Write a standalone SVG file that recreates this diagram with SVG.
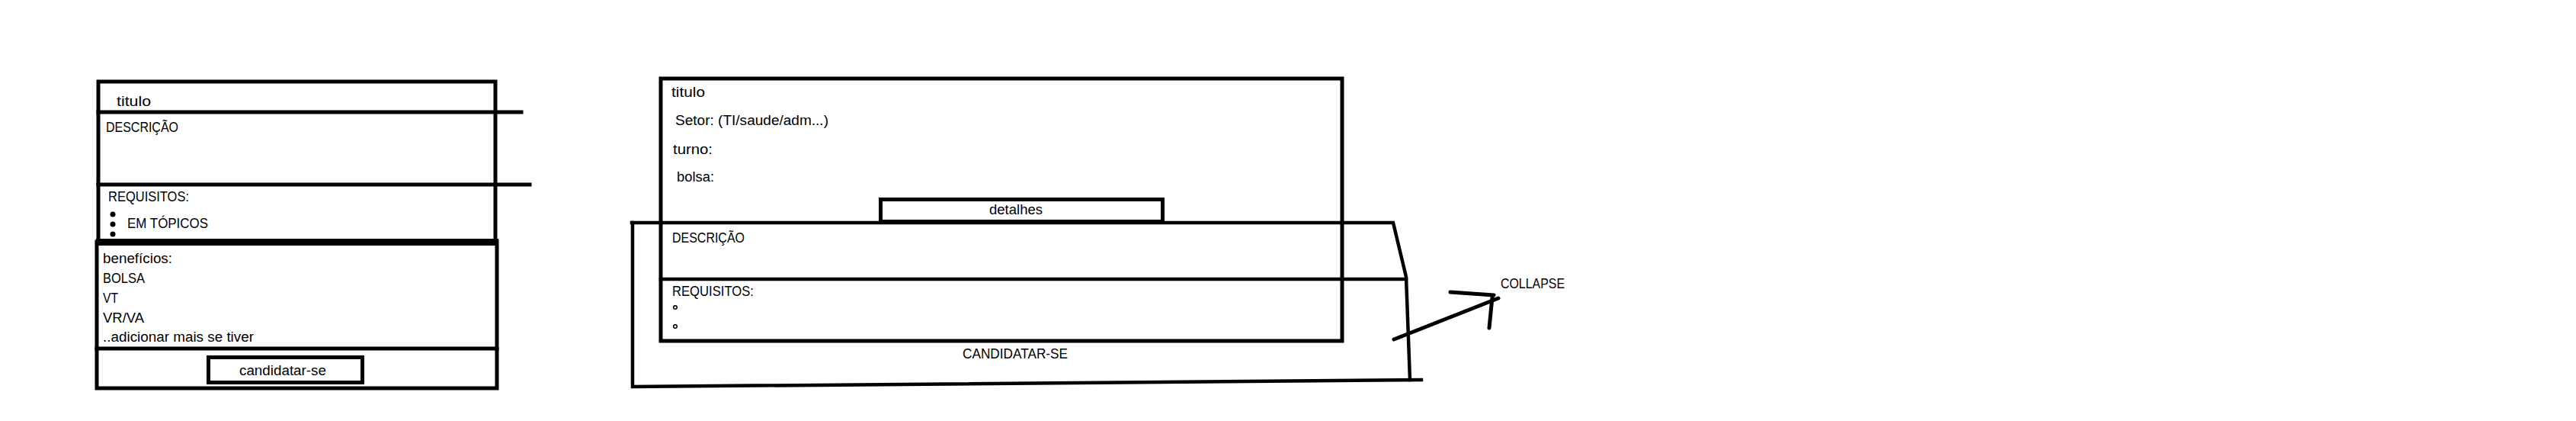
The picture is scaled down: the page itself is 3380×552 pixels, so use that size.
<svg xmlns="http://www.w3.org/2000/svg" width="3380" height="552" viewBox="0 0 3380 552">
<style>
.ln{stroke:#000;stroke-width:5;fill:none;stroke-linecap:square}
.th{stroke:#000;stroke-width:9;fill:none}
.bx{stroke:#000;stroke-width:4.5;fill:none;stroke-linecap:square}
.ar{stroke:#000;stroke-width:5;fill:none;stroke-linecap:round}
.t{font-family:"Liberation Sans",Arial,sans-serif;font-size:18px;fill:#000}
.dot{fill:#000}
.ring{fill:none;stroke:#000;stroke-width:1.5}
</style>
<rect width="3380" height="552" fill="#fff"/>
<g id="card-full">
  <path class="ln" d="M129,107 H650 V317 M129,107 V317"/>
  <path class="ln" d="M129,147 H684"/>
  <path class="ln" d="M129,242 H695"/>
  <path class="th" d="M126,317.5 H654"/>
  <path class="ln" d="M127,317 V509 H652 V317"/>
  <path class="ln" d="M127,457 H652"/>
  <text class="t" x="153" y="139" textLength="45" lengthAdjust="spacingAndGlyphs">titulo</text>
  <text class="t" x="139" y="173" textLength="95" lengthAdjust="spacingAndGlyphs">DESCRIÇÃO</text>
  <text class="t" x="142" y="264" textLength="106" lengthAdjust="spacingAndGlyphs">REQUISITOS:</text>
  <circle class="dot" cx="148" cy="281" r="3.5"/>
  <circle class="dot" cx="148" cy="294" r="3.5"/>
  <circle class="dot" cx="148" cy="307" r="3.5"/>
  <text class="t" x="167" y="299" textLength="106" lengthAdjust="spacingAndGlyphs">EM TÓPICOS</text>
  <text class="t" x="135" y="345" textLength="91" lengthAdjust="spacingAndGlyphs">benefícios:</text>
  <text class="t" x="135" y="371" textLength="55" lengthAdjust="spacingAndGlyphs">BOLSA</text>
  <text class="t" x="135" y="397" textLength="20" lengthAdjust="spacingAndGlyphs">VT</text>
  <text class="t" x="135" y="423" textLength="54" lengthAdjust="spacingAndGlyphs">VR/VA</text>
  <text class="t" x="135" y="448" textLength="198" lengthAdjust="spacingAndGlyphs">..adicionar mais se tiver</text>
  <g id="btn-candidatar">
    <rect class="ln" x="273.5" y="468.5" width="202" height="33"/>
    <text class="t" x="314" y="492" textLength="114" lengthAdjust="spacingAndGlyphs">candidatar-se</text>
  </g>
</g>
<g id="card-summary">
  <rect class="ln" x="867" y="103" width="894" height="344"/>
  <text class="t" x="881" y="127" textLength="44" lengthAdjust="spacingAndGlyphs">titulo</text>
  <text class="t" x="886" y="164" textLength="201" lengthAdjust="spacingAndGlyphs">Setor: (TI/saude/adm...)</text>
  <text class="t" x="883" y="202" textLength="52" lengthAdjust="spacingAndGlyphs">turno:</text>
  <text class="t" x="888" y="238" textLength="49" lengthAdjust="spacingAndGlyphs">bolsa:</text>
  <g id="btn-detalhes">
    <rect class="ln" x="1155.5" y="261.5" width="370" height="29"/>
    <text class="t" x="1298" y="281" textLength="70" lengthAdjust="spacingAndGlyphs">detalhes</text>
  </g>
</g>
<g id="collapse-panel">
  <path class="bx" d="M829,292 H1828 L1845,363 L1850,498"/>
  <path class="bx" d="M830,292 V507 L1865,498"/>
  <path class="bx" d="M867,366 H1845"/>
  <text class="t" x="882" y="318" textLength="95" lengthAdjust="spacingAndGlyphs">DESCRIÇÃO</text>
  <text class="t" x="882" y="388" textLength="107" lengthAdjust="spacingAndGlyphs">REQUISITOS:</text>
  <circle class="ring" cx="886" cy="403" r="2.3"/>
  <circle class="ring" cx="886" cy="428" r="2.3"/>
  <text class="t" x="1263" y="470" textLength="138" lengthAdjust="spacingAndGlyphs">CANDIDATAR-SE</text>
</g>
<g id="label-collapse">
  <text class="t" x="1969" y="378" textLength="84" lengthAdjust="spacingAndGlyphs">COLLAPSE</text>
</g>
<g id="connectors">
  <path class="ar" d="M1829,445 L1966,391 M1903,383 L1960,387 M1958,390 L1954,430"/>
</g>
</svg>
